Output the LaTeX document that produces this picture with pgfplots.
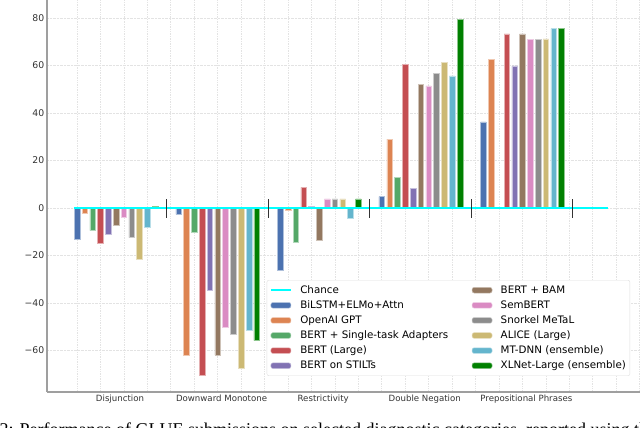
\documentclass[border=0pt]{standalone}
\usepackage{pgfplots}
\pgfplotsset{compat=1.18}
\usepackage{fontspec}
\setmainfont{DejaVu Sans}
\newfontfamily\capfont{Liberation Serif}
\usetikzlibrary{calc}

\definecolor{cBlue}{HTML}{4C72B0}
\definecolor{cOrange}{HTML}{DD8452}
\definecolor{cGreen}{HTML}{55A868}
\definecolor{cRed}{HTML}{C44E52}
\definecolor{cPurple}{HTML}{8172B3}
\definecolor{cBrown}{HTML}{937860}
\definecolor{cPink}{HTML}{DA8BC3}
\definecolor{cGray}{HTML}{8C8C8C}
\definecolor{cOlive}{HTML}{CCB974}
\definecolor{cCyan}{HTML}{64B5CD}
\definecolor{cXL}{HTML}{008000}
\definecolor{chance}{HTML}{00FFFF}

\pgfplotsset{
  mybar/.style={ybar, bar width=0.72, bar shift=0pt, fill=#1, draw=#1!45!white, line width=0.5pt,
    legend image code/.code={\draw[fill=#1, draw=#1!45!white, line width=0.5pt] (0pt,-2.8pt) rectangle (20pt,2.8pt);}},
}

\begin{document}
\begin{tikzpicture}
\begin{axis}[
  name=ax,
  scale only axis, width=593pt, height=392pt,
  xmin=-3.84, xmax=72.04, ymin=-77.5, ymax=87.58,
  axis x line*=bottom, axis y line*=left,
  axis line style={-, draw=gray!75, line width=1.2pt},
  xtick={5.5,18.5,31.5,44.5,57.5},
  xticklabels={Disjunction, Downward Monotone, Restrictivity, Double Negation, Prepositional Phrases},
  minor xtick={0,3,...,72},
  ytick={-60,-40,-20,0,20,40,60,80},
  yticklabels={−60,−40,−20,0,20,40,60,80},
  xmajorgrids=false, xminorgrids=true, ymajorgrids=true,
  grid style={gray!22, densely dotted, line width=0.7pt},
  minor grid style={gray!22, densely dotted, line width=0.7pt},
  major tick length=0pt, minor tick length=0pt,
  xticklabel style={font=\fontsize{8.6}{10}\selectfont, text=black!80, inner sep=1pt, yshift=-1.5pt},
  yticklabel style={font=\fontsize{9.3}{11}\selectfont, text=black!80, inner sep=0pt, xshift=-2.5pt},
  legend columns=6, transpose legend, legend cell align=left,
  legend style={at={(0.3705,0.2857)}, anchor=north west, draw=gray!25, rounded corners=2pt,
    fill=white, font=\fontsize{10.3}{12}\selectfont, inner xsep=3pt, inner ysep=3pt,
    column sep=0pt, row sep=1.1pt,
    nodes={inner sep=1pt, text height=9pt, text depth=3pt},
    /tikz/every odd column/.append style={column sep=7.4pt},
    /tikz/every even column/.append style={column sep=22.5pt}},
]
% Chance (legend entry)
\addplot[chance, line width=2pt,
  legend image code/.code={\draw[chance, line width=2pt] (0pt,0pt) -- (20pt,0pt);}]
  coordinates {(-0.35,0) (67.9,0)};
\addlegendentry{Chance}

% BiLSTM+ELMo+Attn
\addplot[mybar=cBlue] coordinates {(0,-13.2) (13,-2.7) (26,-26.1) (39,4.8) (52,36.3)};
\addlegendentry{BiLSTM+ELMo+Attn}
% OpenAI GPT
\addplot[mybar=cOrange] coordinates {(1,-2.2) (14,-62.0) (27,-1.1) (40,29.0) (53,62.5)};
\addlegendentry{OpenAI GPT}
% BERT + Single-task Adapters
\addplot[mybar=cGreen] coordinates {(2,-9.5) (15,-10.2) (28,-14.3) (41,12.9)};
\addlegendentry{BERT + Single-task Adapters}
% BERT (Large)
\addplot[mybar=cRed] coordinates {(3,-14.9) (16,-70.3) (29,8.7) (42,60.4) (55,73.3)};
\addlegendentry{BERT (Large)}
% BERT on STILTs
\addplot[mybar=cPurple] coordinates {(4,-10.9) (17,-34.8) (30,0.8) (43,8.1) (56,59.8)};
\addlegendentry{BERT on STILTs}
% BERT + BAM
\addplot[mybar=cBrown] coordinates {(5,-7.2) (18,-62.0) (31,-13.5) (44,52.1) (57,73.3)};
\addlegendentry{BERT + BAM}
% SemBERT
\addplot[mybar=cPink] coordinates {(6,-3.7) (19,-50.1) (32,3.8) (45,51.4) (58,70.9)};
\addlegendentry{SemBERT}
% Snorkel MeTaL
\addplot[mybar=cGray] coordinates {(7,-12.5) (20,-53.0) (33,3.8) (46,56.6) (59,70.9)};
\addlegendentry{Snorkel MeTaL}
% ALICE (Large)
\addplot[mybar=cOlive] coordinates {(8,-21.8) (21,-67.5) (34,3.8) (47,61.3) (60,71.2)};
\addlegendentry{ALICE (Large)}
% MT-DNN (ensemble)
\addplot[mybar=cCyan] coordinates {(9,-8.1) (22,-51.6) (35,-4.5) (48,55.6) (61,75.5)};
\addlegendentry{MT-DNN (ensemble)}
% XLNet-Large (ensemble)
\addplot[mybar=cXL] coordinates {(10,0.6) (23,-55.9) (36,3.8) (49,79.4) (62,75.5)};
\addlegendentry{XLNet-Large (ensemble)}

% chance line drawn over the bars
\addplot[chance, line width=2pt, forget plot] coordinates {(-0.35,0) (67.9,0)};
% group separators
\addplot[ycomb, forget plot, black!80, line width=0.9pt]
  coordinates {(11.45,3.8) (24.45,3.8) (37.45,3.8) (50.45,3.8) (63.45,3.8)};
\addplot[ycomb, forget plot, black!80, line width=0.9pt]
  coordinates {(11.45,-4.1) (24.45,-4.1) (37.45,-4.1) (50.45,-4.1) (63.45,-4.1)};
\end{axis}
\pgfresetboundingbox
\path[use as bounding box] ($(ax.south west)+(-47pt,-36pt)$) rectangle (ax.north east);
\node[anchor=base west, inner sep=0pt, font=\capfont\fontsize{18}{20}\selectfont]
  at ($(ax.south west)+(-47.5pt,-43.5pt)$)
  {2: Performance of GLUE submissions on selected diagnostic categories, reported using the};
\end{tikzpicture}
\end{document}
